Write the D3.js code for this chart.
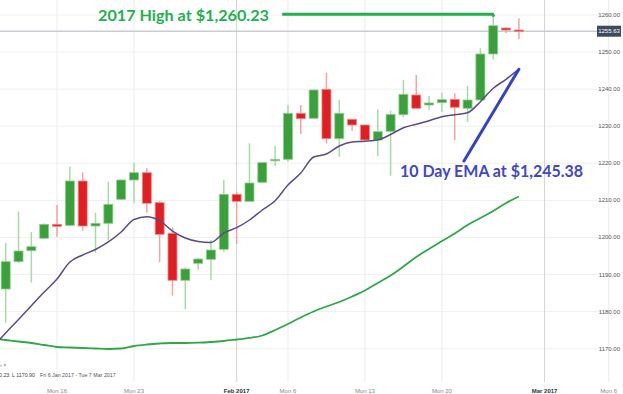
<!DOCTYPE html>
<html>
<head>
<meta charset="utf-8">
<script src="https://cdn.jsdelivr.net/npm/d3@7"></script>
<style>
  body { margin: 0; background: #fff; }
  svg { display: block; }
  .small { font-family: "Liberation Sans", Arial, sans-serif; font-size: 6px; }
  .legend { font-family: "Liberation Sans", Arial, sans-serif; font-size: 5.3px; }
</style>
</head>
<body>
<div id="chart"></div>
<script>
// Candle data by slot (slot = x position, 6 candles per trading week)
const slots  = d3.range(0, 41);
const opens  = [1186.10,1193.47,1196.43,1199.78,1203.55,1203.28,1215.23,1203.09,1203.82,1210.29,
                1215.50,1217.47,1209.38,1201.12,1188.45,1193.03,1194.11,1196.81,1211.64,1209.75,
                1214.88,1220.89,1221.08,1233.49,1232.14,1239.96,1226.64,1231.87,1230.33,1226.29,
                1228.63,1233.11,1238.42,1235.73,1236.35,1237.26,1234.84,1237.08,1249.48,1256.49,1255.95];
const highs  = [1198.51,1206.95,1201.48,1203.77,1208.76,1219.09,1217.58,1206.68,1215.04,1215.63,
                1220.17,1218.66,1209.92,1202.74,1191.95,1194.54,1199.32,1215.50,1212.34,1225.40,
                1220.35,1224.67,1235.73,1235.73,1239.91,1244.44,1237.08,1231.95,1230.47,1234.57,
                1234.19,1242.47,1243.82,1238.15,1239.04,1238.88,1240.85,1251.02,1260.23,1256.63,1259.11];
const lows   = [1177.01,1193.11,1187.86,1199.59,1200.21,1203.09,1201.83,1195.89,1199.32,1210.10,
                1209.22,1206.68,1193.30,1184.30,1180.63,1191.23,1188.53,1196.16,1198.24,1209.70,
                1214.69,1219.28,1220.44,1227.91,1232.09,1225.40,1221.78,1228.80,1226.15,1221.97,
                1216.66,1232.41,1234.65,1234.38,1233.84,1226.29,1231.22,1236.94,1248.05,1255.15,1253.45];
const closes = [1193.47,1196.35,1197.51,1203.55,1203.01,1215.23,1203.09,1203.82,1208.95,1215.50,
                1217.47,1209.22,1200.85,1188.45,1191.50,1194.19,1196.62,1211.64,1209.75,1214.69,
                1220.17,1221.08,1233.49,1232.03,1239.77,1226.64,1233.49,1230.33,1226.29,1228.53,
                1233.16,1238.61,1234.84,1236.27,1237.16,1235.11,1237.08,1249.48,1257.11,1255.95,1255.63];

// Moving averages, slots -1..40
const maSlots = d3.range(-1, 41);
const ema10 = [1170.46,1174.24,1177.88,1181.60,1185.29,1188.80,1193.38,1195.27,1196.75,1198.78,1201.48,
               1204.85,1205.60,1204.52,1201.74,1199.86,1198.91,1198.64,1201.21,1202.64,1204.71,
               1207.41,1209.92,1214.15,1217.39,1221.70,1222.51,1224.67,1225.75,1225.94,1226.29,
               1227.77,1229.61,1230.52,1231.49,1232.57,1233.11,1233.65,1236.62,1240.23,1242.66,1245.38];
const smaLong = [1172.75,1172.35,1171.94,1171.54,1171.00,1170.46,1170.32,1170.19,1170.05,1169.92,1170.05,
                 1170.73,1171.13,1171.40,1171.54,1171.54,1171.62,1171.81,1172.08,1172.48,1172.89,
                 1173.56,1175.04,1176.66,1178.42,1180.03,1181.38,1182.60,1184.08,1185.70,1187.72,
                 1189.74,1192.17,1194.73,1196.89,1199.05,1201.07,1203.36,1205.25,1207.14,1209.30,1211.05];

// Axis ticks
const yTicks = d3.range(1170, 1261, 10);
const xTickSlots  = [4, 10, 18, 22, 28, 34, 42, 47];
const xTickLabels = ["Mon 16", "Mon 23", "Feb 2017", "Mon 6", "Mon 13", "Mon 20", "Mar 2017", "Mon 6"];
const monthTicks  = ["Feb 2017", "Mar 2017"];

const lastPrice = 1255.63;
const high2017 = 1260.23;

const width = 623, height = 394;

const svg = d3.select("#chart").append("svg")
  .attr("width", width).attr("height", height);

const x = d3.scaleLinear().domain([0, 47]).range([5.7, 608.7]);
const y = d3.scaleLinear().domain([1170, 1260]).range([348.7, 15]);

// Horizontal grid
svg.append("g").selectAll("line").data(yTicks).enter().append("line")
  .attr("x1", 0).attr("x2", 600)
  .attr("y1", d => y(d)).attr("y2", d => y(d))
  .attr("stroke", "#f0f0f0").attr("stroke-width", 1);

// Vertical grid
svg.append("g").selectAll("line").data(xTickSlots).enter().append("line")
  .attr("x1", d => x(d)).attr("x2", d => x(d))
  .attr("y1", 0).attr("y2", 382)
  .attr("stroke", (d, i) => monthTicks.includes(xTickLabels[i]) ? "#d4d4d4" : "#ececec")
  .attr("stroke-width", 1);

// Y labels
svg.append("g").selectAll("text").data(yTicks).enter().append("text")
  .attr("class", "small")
  .attr("x", 620).attr("y", d => y(d) + 2)
  .attr("text-anchor", "end").attr("fill", "#555")
  .text(d => d.toFixed(2));

// X labels
svg.append("g").selectAll("text").data(xTickSlots).enter().append("text")
  .attr("class", "small")
  .attr("x", d => x(d)).attr("y", 392.5)
  .attr("text-anchor", "middle")
  .attr("fill", (d, i) => monthTicks.includes(xTickLabels[i]) ? "#333" : "#888")
  .attr("font-weight", (d, i) => monthTicks.includes(xTickLabels[i]) ? "bold" : "normal")
  .text((d, i) => xTickLabels[i]);

// Last price line + label
svg.append("line")
  .attr("x1", 0).attr("x2", 598)
  .attr("y1", y(lastPrice)).attr("y2", y(lastPrice))
  .attr("stroke", "#c9ced4").attr("stroke-width", 1.5);
svg.append("rect")
  .attr("x", 597).attr("y", y(lastPrice) - 5.5)
  .attr("width", 24).attr("height", 11)
  .attr("fill", "#3d4b5e");
svg.append("text")
  .attr("class", "small")
  .attr("x", 609).attr("y", y(lastPrice) + 2)
  .attr("text-anchor", "middle").attr("fill", "#fff")
  .text(lastPrice.toFixed(2));

// Clip for plotting area
svg.append("defs").append("clipPath").attr("id", "clip")
  .append("rect").attr("x", 0).attr("y", 0).attr("width", 598).attr("height", 382);

const plot = svg.append("g").attr("clip-path", "url(#clip)");

// Long SMA
const line = d3.line()
  .x((d, i) => x(maSlots[i]))
  .y(d => y(d))
  .curve(d3.curveMonotoneX);

plot.append("path").datum(smaLong)
  .attr("d", line)
  .attr("fill", "none").attr("stroke", "#2ea84a").attr("stroke-width", 1.8);

// Candles
const candles = slots.map((s, i) => ({
  slot: s, open: opens[i], high: highs[i], low: lows[i], close: closes[i]
}));
const bodyW = 9;

const cg = plot.append("g").selectAll("g").data(candles).enter().append("g");
cg.append("line")
  .attr("x1", d => x(d.slot)).attr("x2", d => x(d.slot))
  .attr("y1", d => y(d.high)).attr("y2", d => y(d.low))
  .attr("stroke", d => d.close >= d.open ? "#a9d8a9" : "#f2a3a3")
  .attr("stroke-width", 1.5);
cg.append("rect")
  .attr("x", d => x(d.slot) - bodyW / 2)
  .attr("y", d => y(Math.max(d.open, d.close)))
  .attr("width", bodyW)
  .attr("height", d => Math.max(1.5, Math.abs(y(d.open) - y(d.close))))
  .attr("fill", d => d.close >= d.open ? "#3aa03a" : "#e11f22")
  .attr("stroke", d => d.close >= d.open ? "#8fcf8f" : "#f08a8a")
  .attr("stroke-width", 0.8);

// 10 day EMA
plot.append("path").datum(ema10)
  .attr("d", line)
  .attr("fill", "none").attr("stroke", "#5d4a8c").attr("stroke-width", 1.5);

// Annotations
svg.append("path")
  .attr("d", d3.line()([[x(21.55), y(high2017)], [x(37.95), y(high2017)], [x(38.05), y(high2017) + 2.5]]))
  .attr("fill", "none").attr("stroke", "#22b14c").attr("stroke-width", 3);
svg.append("text")
  .attr("x", 98).attr("y", 21)
  .attr("font-family", "Lato, 'Open Sans', sans-serif")
  .attr("font-weight", "bold").attr("font-size", 15.5)
  .attr("fill", "#22b14c")
  .attr("textLength", 171).attr("lengthAdjust", "spacingAndGlyphs")
  .text("2017 High at $1,260.23");

svg.append("line")
  .attr("x1", x(35.72)).attr("y1", y(1220.6))
  .attr("x2", x(40)).attr("y2", y(ema10[ema10.length - 1]))
  .attr("stroke", "#3341cf").attr("stroke-width", 3).attr("stroke-linecap", "round");
svg.append("text")
  .attr("x", 400).attr("y", 177)
  .attr("font-family", "Lato, 'Open Sans', sans-serif")
  .attr("font-weight", "bold").attr("font-size", 17)
  .attr("fill", "#3f48cc")
  .attr("textLength", 183).attr("lengthAdjust", "spacingAndGlyphs")
  .text("10 Day EMA at $1,245.38");

// Legend remnants at bottom-left
svg.append("text").attr("class", "legend").attr("x", 0).attr("y", 367).attr("fill", "#777").text("› ×");
svg.append("text").attr("class", "legend").attr("x", -1).attr("y", 377).attr("fill", "#444").text("0.23");
svg.append("text").attr("class", "legend").attr("x", 12).attr("y", 377).attr("fill", "#444").text("L 1170.90");
svg.append("text").attr("class", "legend").attr("x", 40).attr("y", 377).attr("fill", "#555").text("Fri 6 Jan 2017 - Tue 7 Mar 2017");
</script>
</body>
</html>
